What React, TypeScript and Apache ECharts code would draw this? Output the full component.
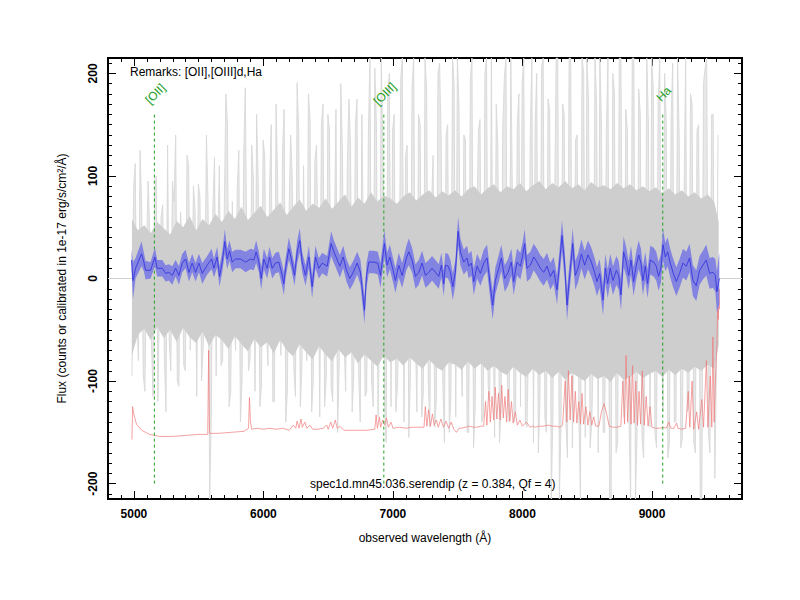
import { useEffect, useRef } from "react";
import * as echarts from "echarts";

// ---------- data ----------
const redshift = 0.384;
const lineNames = ["[OII]", "[OIII]", "Ha"];
const lineRest = [3727, 5007, 6563];

// smoothed flux: [wavelength, flux, error]
const blueSpec: [number, number, number][] = [
  [4982,18,10],[4993,-2,18],[5013,10,10],[5059,24,12],[5077,16,9],[5090,8,9],[5129,8,8],[5162,21,9],[5180,10,8],[5219,10,8],
  [5245,5,8],[5270,6,8],[5296,3,9],[5322,10,8],[5348,3,9],[5373,15,9],[5399,19,9],[5425,6,9],[5450,15,9],[5476,6,9],
  [5502,15,9],[5528,5,10],[5566,13,9],[5600,19,10],[5618,10,9],[5643,21,10],[5661,2,10],[5682,16,10],[5702,36,12],[5720,19,10],
  [5738,27,10],[5759,16,10],[5785,19,9],[5823,19,9],[5862,16,10],[5901,19,10],[5926,18,10],[5944,26,11],[5965,16,10],[5983,0,11],
  [6003,19,10],[6029,10,10],[6047,21,10],[6068,10,10],[6093,15,10],[6119,16,10],[6145,3,11],[6158,-5,11],[6171,10,10],[6196,29,11],
  [6214,20,10],[6240,3,10],[6261,26,11],[6281,37,12],[6299,16,10],[6325,3,10],[6351,21,11],[6376,-8,11],[6402,21,11],[6428,10,10],
  [6454,15,10],[6492,12,10],[6523,34,12],[6544,26,11],[6564,20,11],[6590,12,11],[6616,21,11],[6641,8,11],[6667,0,11],[6693,6,11],
  [6724,15,11],[6749,6,12],[6780,-31,13],[6796,3,12],[6814,16,11],[6852,16,11],[6883,15,11],[6904,3,12],[6934,34,13],[6955,13,12],
  [6976,21,12],[7001,8,12],[7019,-2,12],[7045,13,12],[7071,3,12],[7104,20,12],[7122,26,13],[7148,18,12],[7174,2,12],[7199,6,12],
  [7225,15,12],[7251,3,12],[7277,6,12],[7302,10,12],[7328,6,12],[7354,2,12],[7374,13,12],[7392,-5,12],[7405,13,12],[7426,12,12],
  [7444,6,12],[7462,-8,13],[7482,6,12],[7503,46,14],[7521,26,13],[7547,16,12],[7572,20,12],[7585,12,12],[7606,15,12],[7624,-3,13],
  [7650,12,12],[7675,5,12],[7701,15,13],[7727,20,13],[7752,-8,13],[7770,-26,14],[7791,-2,13],[7817,10,13],[7837,20,13],[7863,0,13],
  [7889,6,13],[7914,16,13],[7932,-3,13],[7958,16,13],[7984,12,13],[8002,23,13],[8017,34,14],[8035,10,13],[8061,13,13],[8087,21,13],
  [8112,16,13],[8138,10,13],[8164,6,13],[8190,12,13],[8215,2,13],[8241,8,13],[8267,-11,14],[8285,13,13],[8305,42,15],[8326,13,14],
  [8344,-26,15],[8370,10,14],[8388,34,15],[8408,3,14],[8429,10,14],[8455,24,14],[8480,13,14],[8506,23,14],[8532,16,14],[8557,6,14],
  [8575,-3,14],[8596,5,14],[8622,-21,15],[8640,10,14],[8658,-5,14],[8678,10,14],[8699,-2,14],[8725,8,14],[8743,3,14],[8761,-16,15],
  [8781,26,15],[8802,16,14],[8820,3,14],[8838,18,14],[8858,-3,14],[8879,13,14],[8897,23,14],[8915,15,14],[8930,-2,14],[8948,12,14],
  [8966,-5,14],[8987,18,14],[9013,16,14],[9033,12,14],[9051,2,14],[9069,10,14],[9085,33,15],[9103,21,14],[9121,26,14],[9141,15,14],
  [9162,6,14],[9188,-3,14],[9213,5,14],[9239,15,14],[9265,12,14],[9290,20,14],[9316,-2,15],[9342,-7,15],[9368,8,14],[9393,13,14],
  [9419,18,15],[9445,5,15],[9471,6,15],[9489,3,16],[9501,-13,20],[9520,0,25],
];

// raw flux (spiky), two interleaved readings on a regular wavelength grid
const rawStartA = 4985;
const rawStartB = 4997.5;
const rawStep = 25;
const rawFluxA: number[] = [
  -95,112,-80,70,-110,95,-60,85,-120,60,-75,130,-90,75,-100,65,-85,120,-70,90,
  -115,80,-65,140,-215,70,-95,110,-80,180,-125,75,-70,125,-100,186,-90,130,-110,95,
  -105,120,-85,150,-120,95,-75,165,-110,140,-90,191,-125,110,-80,155,-100,130,-135,170,
  -95,145,-120,165,-85,125,-110,175,-130,150,-90,160,-115,140,-100,205,-135,215,-120,180,
  -125,160,-105,195,-140,130,-95,215,-130,150,-110,185,-145,120,-120,210,-100,140,-150,215,
  -135,170,-115,135,-150,215,-125,145,-140,200,-105,215,-155,130,-130,195,-115,215,-140,150,
  -125,215,-145,140,-160,200,-120,215,-150,165,-135,215,-215,170,-140,215,-165,135,-130,215,
  -155,175,-140,215,-170,150,-150,215,-215,180,-160,215,-135,145,-215,215,-150,160,-175,215,
  -145,185,-165,215,-130,155,-160,210,-140,140,-155,215,-125,170,-170,150,-215,205,-150,160,
  -195,140,
];
const rawFluxB: number[] = [
  88,-40,125,-95,30,45,-115,100,-25,72,-130,-60,95,140,-105,35,-90,110,-20,66,
  92,-100,-30,75,-135,118,40,-85,64,150,-110,-35,85,-140,120,20,-78,98,160,-125,
  135,-50,90,-120,170,-30,125,-140,60,100,-115,145,-85,-40,180,-130,115,25,150,-125,
  160,-105,40,-150,190,-60,110,130,-95,175,-140,30,-110,215,-125,150,-45,125,-160,200,
  145,-130,-40,215,120,-155,185,-50,160,-135,215,-100,70,-145,200,135,-160,150,-115,190,
  215,-60,140,-150,195,-165,50,155,-135,215,-120,-40,170,-160,145,215,-140,80,-130,180,
  190,-140,-60,215,150,-170,205,-135,175,-215,60,215,-145,160,-175,215,-40,140,-215,200,
  215,-165,-70,170,215,-150,145,-215,200,-170,215,-50,165,-140,215,-215,185,-155,-60,150,
  215,-150,170,-60,200,-175,155,-140,215,-165,80,-130,180,-160,145,-215,190,215,-170,160,
  -90,
];

// dense core of the raw flux: [wavelength, low, high]
const coreBand: [number, number, number][] = [
  [4985,-75,58],[5030,-55,47],[5080,-49,52],[5130,-60,44],[5180,-47,55],[5230,-58,49],[5280,-50,43],[5330,-62,56],[5380,-48,50],[5430,-57,61],
  [5480,-63,47],[5530,-52,58],[5580,-66,52],[5630,-55,63],[5680,-60,55],[5730,-69,66],[5780,-56,58],[5830,-64,70],[5880,-71,57],[5930,-59,64],
  [5980,-67,71],[6030,-62,60],[6080,-73,67],[6130,-60,74],[6180,-70,62],[6230,-76,70],[6280,-64,77],[6330,-72,66],[6380,-79,73],[6430,-66,69],
  [6480,-74,78],[6530,-81,68],[6580,-69,75],[6630,-77,82],[6680,-72,70],[6730,-83,79],[6780,-74,73],[6830,-80,84],[6880,-86,75],[6930,-75,81],
  [6980,-82,78],[7030,-78,73],[7080,-85,80],[7130,-77,84],[7180,-83,76],[7230,-88,82],[7280,-79,86],[7330,-86,79],[7380,-90,85],[7430,-82,81],
  [7480,-84,86],[7530,-89,80],[7580,-81,87],[7630,-88,90],[7680,-83,82],[7730,-90,88],[7780,-85,92],[7830,-91,84],[7880,-94,90],[7930,-86,87],
  [7980,-92,93],[8030,-96,85],[8080,-88,91],[8130,-94,95],[8180,-90,87],[8230,-97,93],[8280,-91,89],[8330,-99,95],[8380,-92,88],[8430,-96,92],
  [8480,-100,86],[8530,-93,94],[8580,-98,89],[8630,-95,91],[8680,-101,87],[8730,-92,93],[8780,-99,88],[8830,-96,92],[8880,-91,86],[8930,-97,90],
  [8980,-93,85],[9030,-90,89],[9080,-96,83],[9130,-89,88],[9180,-94,82],[9230,-88,86],[9280,-92,80],[9330,-86,84],[9380,-90,78],[9430,-84,82],
  [9480,-88,75],[9515,-65,55],
];

// sky / error spectrum: [wavelength, value]
const skySpec: [number, number][] = [
  [4985,-157],[4990,-125],[5000,-133],[5020,-142],[5060,-148],[5120,-152],[5200,-154],[5300,-154],[5400,-153],[5500,-152],
  [5570,-152],[5577,-70],[5584,-151],[5650,-151],[5750,-150],[5850,-149],[5885,-146],[5892,-116],[5900,-140],[5910,-147],
  [5950,-146],[6000,-147],[6050,-146],[6100,-147],[6150,-146],[6200,-148],[6230,-143],[6250,-146],[6260,-139],[6275,-146],
  [6290,-137],[6300,-145],[6320,-140],[6335,-146],[6360,-143],[6380,-147],[6420,-147],[6460,-146],[6490,-143],[6500,-147],
  [6520,-140],[6535,-146],[6555,-138],[6570,-146],[6590,-144],[6620,-148],[6700,-148],[6800,-148],[6860,-147],[6870,-133],
  [6880,-146],[6895,-135],[6905,-145],[6920,-138],[6935,-143],[6950,-136],[6965,-145],[6985,-140],[7000,-146],[7050,-145],
  [7100,-146],[7150,-145],[7200,-145],[7240,-145],[7250,-125],[7262,-144],[7275,-128],[7290,-144],[7305,-132],[7318,-143],
  [7335,-138],[7350,-145],[7370,-137],[7390,-145],[7410,-139],[7430,-146],[7450,-140],[7470,-147],[7490,-150],[7510,-146],
  [7530,-146],[7560,-145],[7590,-144],[7620,-145],[7650,-145],[7680,-144],[7700,-144],[7715,-120],[7725,-143],[7740,-110],
  [7752,-140],[7765,-115],[7778,-138],[7790,-106],[7802,-137],[7815,-112],[7828,-138],[7840,-104],[7852,-136],[7865,-115],
  [7878,-140],[7890,-108],[7902,-139],[7915,-120],[7928,-141],[7945,-130],[7960,-143],[7980,-138],[8000,-144],[8030,-140],
  [8060,-145],[8080,-144],[8100,-145],[8130,-144],[8160,-144],[8200,-143],[8230,-144],[8260,-144],[8290,-145],[8310,-143],
  [8330,-100],[8342,-140],[8355,-90],[8368,-138],[8382,-95],[8395,-140],[8408,-110],[8420,-141],[8435,-120],[8448,-142],
  [8460,-112],[8472,-142],[8490,-125],[8505,-143],[8520,-130],[8535,-143],[8550,-135],[8565,-144],[8590,-144],[8610,-130],
  [8630,-122],[8650,-132],[8670,-144],[8700,-145],[8730,-145],[8760,-144],[8775,-100],[8788,-142],[8800,-75],[8812,-140],
  [8825,-95],[8838,-142],[8850,-85],[8862,-141],[8875,-100],[8888,-143],[8900,-110],[8912,-142],[8925,-90],[8940,-143],
  [8955,-115],[8970,-144],[8985,-125],[9000,-145],[9030,-146],[9060,-146],[9090,-145],[9110,-146],[9130,-140],[9145,-146],
  [9170,-146],[9190,-141],[9200,-146],[9230,-147],[9260,-146],[9280,-110],[9292,-145],[9310,-100],[9322,-147],[9345,-130],
  [9360,-147],[9385,-118],[9398,-145],[9420,-80],[9432,-145],[9450,-95],[9462,-145],[9470,-57],[9480,-140],[9492,-90],
  [9500,-70],[9508,-25],[9512,-40],[9518,-10],[9522,-30],
];

const xMajor = [5000, 6000, 7000, 8000, 9000];
const yMajor = [-200, -100, 0, 100, 200];
const X_MIN = 4800;
const X_MAX = 9695;
const Y_MIN = -215;
const Y_MAX = 215;
const LABEL_LEVEL = 180;
const MARKER_TOP = 161;
const MARKER_BOTTOM = -200;

const FONT = "Liberation Sans";

function range(a: number, b: number, s: number) {
  const r: number[] = [];
  for (let v = a; v <= b + 1e-9; v += s) r.push(v);
  return r;
}
const xMinor = range(4900, 9600, 100);
const yMinor = range(-210, 210, 10);

function polyBand(lower: number[][], upper: number[][], fill: string, z: number) {
  return {
    type: "custom",
    silent: true,
    z,
    clip: true,
    data: [[lower[0][0], 0]],
    encode: { x: 0, y: 1 },
    renderItem: (_p: any, api: any) => {
      const pts: number[][] = [];
      for (const p of lower) pts.push(api.coord(p));
      for (let i = upper.length - 1; i >= 0; i--) pts.push(api.coord(upper[i]));
      return { type: "polygon", shape: { points: pts }, style: { fill, stroke: "none" } };
    },
  };
}

function xAxisDef(position: "bottom" | "top", ticks: number[], len: number, labels: boolean, name?: string) {
  return {
    type: "value",
    position,
    min: X_MIN,
    max: X_MAX,
    axisLine: { show: false, onZero: false },
    splitLine: { show: false },
    axisTick: { show: true, inside: true, length: len, customValues: ticks, lineStyle: { color: "#000", width: 1 } },
    axisLabel: labels
      ? {
          show: true,
          customValues: ticks,
          margin: 9,
          fontFamily: FONT,
          fontSize: 12,
          fontWeight: "bold",
          color: "#000",
          formatter: (v: number) => String(v),
        }
      : { show: false },
    name: name || "",
    nameLocation: "middle",
    nameGap: 33,
    nameTextStyle: { fontFamily: FONT, fontSize: 12, color: "#000" },
  };
}

function yAxisDef(position: "left" | "right", ticks: number[], len: number, labels: boolean, name?: string) {
  return {
    type: "value",
    position,
    min: Y_MIN,
    max: Y_MAX,
    axisLine: { show: false, onZero: false },
    splitLine: { show: false },
    axisTick: { show: true, inside: true, length: len, customValues: ticks, lineStyle: { color: "#000", width: 1 } },
    axisLabel: labels
      ? {
          show: true,
          customValues: ticks,
          rotate: 90,
          margin: 9,
          fontFamily: FONT,
          fontSize: 12,
          fontWeight: "bold",
          color: "#000",
          formatter: (v: number) => String(v),
        }
      : { show: false },
    name: name || "",
    nameLocation: "middle",
    nameGap: 40,
    nameTextStyle: { fontFamily: FONT, fontSize: 12, color: "#000" },
  };
}

const observed = lineRest.map((w) => w * (1 + redshift));

function textGraphics(labelPts: number[][]) {
  const g: any[] = [
    {
      type: "text",
      left: 130,
      top: 66,
      z: 100,
      style: { text: "Remarks: [OII],[OIII]d,Ha", font: `12px "${FONT}"`, fill: "#000" },
    },
    {
      type: "text",
      left: 310,
      top: 478,
      z: 100,
      style: { text: "spec1d.mn45.036.serendip (z = 0.384, Qf = 4)", font: `12px "${FONT}"`, fill: "#000" },
    },
  ];
  labelPts.forEach((p, i) => {
    g.push({
      type: "text",
      x: p[0] + 1,
      y: p[1],
      rotation: Math.PI / 4,
      z: 100,
      style: {
        text: lineNames[i],
        font: `12px "${FONT}"`,
        fill: "#1c9c1c",
        align: "center",
        verticalAlign: "middle",
      },
    });
  });
  return g;
}

function buildOption() {
  const raw = [
    ...rawFluxA.map((v, i) => [rawStartA + i * rawStep, v]),
    ...rawFluxB.map((v, i) => [rawStartB + i * rawStep, v]),
  ].sort((p, q) => p[0] - q[0]);
  const rawHi = raw.map((d) => [d[0], Math.max(d[1], 0)]);
  const rawLo = raw.map((d) => [d[0], Math.min(d[1], 0)]);
  const coreLo = coreBand.map((d) => [d[0], d[1]]);
  const coreHi = coreBand.map((d) => [d[0], d[2]]);
  const blueLo = blueSpec.map((d) => [d[0], d[1] - d[2]]);
  const blueHi = blueSpec.map((d) => [d[0], d[1] + d[2]]);
  const blueLine = blueSpec.map((d) => [d[0], d[1]]);

  const series: any[] = [
    {
      type: "line",
      data: [[X_MIN, 0], [X_MAX, 0]],
      showSymbol: false,
      silent: true,
      lineStyle: { color: "#d0d0d0", width: 1 },
      z: 1,
    },
    polyBand(rawLo, rawHi, "#e8e8e8", 2),
    {
      type: "line",
      data: raw,
      showSymbol: false,
      silent: true,
      lineStyle: { color: "#d8d8d8", width: 0.9 },
      z: 2,
    },
    polyBand(coreLo, coreHi, "#cecece", 3),
    {
      type: "line",
      data: skySpec,
      showSymbol: false,
      silent: true,
      lineStyle: { color: "#f07a7a", width: 0.7 },
      z: 4,
    },
  ];
  observed.forEach((w) => {
    series.push({
      type: "line",
      data: [[w, MARKER_BOTTOM], [w, MARKER_TOP]],
      showSymbol: false,
      silent: true,
      lineStyle: { color: "#22a022", width: 1, type: [3, 3] },
      z: 5,
    });
  });
  series.push(polyBand(blueLo, blueHi, "#8383e2", 6));
  series.push({
    type: "line",
    data: blueLine,
    showSymbol: false,
    silent: true,
    lineStyle: { color: "#3838dc", width: 0.9 },
    z: 7,
  });

  return {
    animation: false,
    backgroundColor: "#fff",
    textStyle: { fontFamily: FONT },
    grid: {
      left: 108,
      right: 58,
      top: 58,
      bottom: 101,
      show: true,
      borderColor: "#000",
      borderWidth: 2,
      backgroundColor: "transparent",
    },
    xAxis: [
      xAxisDef("bottom", xMajor, 8, true, "observed wavelength (Å)"),
      xAxisDef("bottom", xMinor, 4, false),
      xAxisDef("top", xMajor, 8, false),
      xAxisDef("top", xMinor, 4, false),
    ],
    yAxis: [
      yAxisDef("left", yMajor, 8, true, "Flux (counts or calibrated in 1e-17 erg/s/cm²/Å)"),
      yAxisDef("left", yMinor, 4, false),
      yAxisDef("right", yMajor, 8, false),
      yAxisDef("right", yMinor, 4, false),
    ],
    series,
    graphic: textGraphics([]),
  };
}

export default function App() {
  const ref = useRef<HTMLDivElement>(null);
  useEffect(() => {
    if (!ref.current) return;
    const chart = echarts.init(ref.current, null, { renderer: "svg" });
    chart.setOption(buildOption() as any);
    const pts = observed.map(
      (w) => chart.convertToPixel({ xAxisIndex: 0, yAxisIndex: 0 }, [w, LABEL_LEVEL]) as number[]
    );
    chart.setOption({ graphic: textGraphics(pts) } as any);
    return () => chart.dispose();
  }, []);
  return (
    <div
      ref={ref}
      style={{ position: "absolute", left: 0, top: 0, width: 800, height: 600, background: "#fff" }}
    />
  );
}
